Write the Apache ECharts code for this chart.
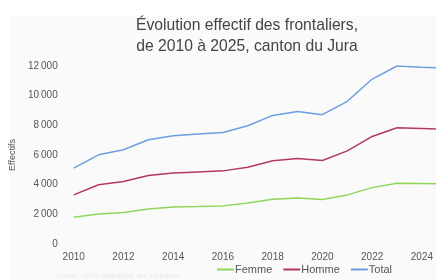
<!DOCTYPE html>
<html>
<head>
<meta charset="utf-8">
<script src="https://cdn.jsdelivr.net/npm/echarts@6/dist/echarts.min.js"></script>
<style>
  html, body { margin: 0; padding: 0; background: #fff; }
  #chart { width: 436px; height: 280px; }
</style>
</head>
<body>
<div id="chart"></div>
<script>
// années et effectifs
var years = [2010, 2011, 2012, 2013, 2014, 2015, 2016, 2017, 2018, 2019, 2020, 2021, 2022, 2023, 2024, 2025];
var femme = [1800, 2030, 2120, 2360, 2500, 2520, 2570, 2770, 3020, 3100, 3000, 3310, 3800, 4100, 4080, 4060];
var homme = [3310, 3990, 4210, 4620, 4780, 4860, 4930, 5180, 5610, 5770, 5630, 6280, 7250, 7840, 7780, 7720];
var total = [5110, 6010, 6350, 7030, 7300, 7410, 7520, 7970, 8670, 8940, 8720, 9620, 11120, 12000, 11920, 11860];
var yTicks = [0, 2000, 4000, 6000, 8000, 10000, 12000];

function pairs(vals) {
  var out = [];
  for (var i = 0; i < years.length; i++) {
    out.push([years[i], vals[i]]);
  }
  return out;
}

function fmtThousands(v) {
  var s = String(v);
  if (s.length > 3) {
    s = s.slice(0, s.length - 3) + '\u202F' + s.slice(s.length - 3);
  }
  return s;
}

var myChart = echarts.init(document.getElementById('chart'));
var font = 'Helvetica, Arial, "Liberation Sans", sans-serif';

var option = {
  backgroundColor: '#ffffff',
  animation: false,
  textStyle: { fontFamily: font },
  graphic: [{
    type: 'rect',
    left: 10,
    top: 16,
    z: -10,
    shape: { width: 430, height: 270 },
    style: { fill: '#fafafa' }
  }, {
    type: 'text',
    left: 55,
    top: 273,
    style: { text: 'Source : OFS, Statistique des frontaliers', fill: '#e8e8e8', font: '7px ' + font }
  }],
  title: {
    text: 'Évolution effectif des frontaliers,\nde 2010 à 2025, canton du Jura',
    left: 242,
    top: 10,
    textAlign: 'center',
    textStyle: {
      fontFamily: font,
      fontSize: 15.7,
      fontWeight: 'normal',
      color: '#444',
      lineHeight: 21
    }
  },
  legend: {
    bottom: 0,
    left: 212,
    itemWidth: 17,
    itemHeight: 2,
    itemGap: 11,
    icon: 'rect',
    textStyle: { fontSize: 11, color: '#555', padding: [0, 0, 0, -4] },
    data: ['Femme', 'Homme', 'Total']
  },
  grid: {
    left: 73,
    top: 66,
    right: 0,
    height: 178,
    containLabel: false
  },
  // l'axe est coupé au bord droit, comme sur l'original
  xAxis: {
    type: 'value',
    min: 2010,
    max: 2024.52,
    interval: 2,
    axisLine: { show: false },
    axisTick: { show: false },
    splitLine: { show: false },
    axisLabel: {
      margin: 8,
      fontSize: 10,
      color: '#555',
      showMaxLabel: false,
      formatter: function (v) { return String(v); }
    }
  },
  yAxis: {
    type: 'value',
    min: yTicks[0],
    max: yTicks[yTicks.length - 1],
    interval: 2000,
    name: 'Effectifs',
    nameLocation: 'middle',
    nameGap: 51,
    nameTextStyle: { fontSize: 9, color: '#555' },
    axisLine: { show: false },
    axisTick: { show: false },
    splitLine: { show: false },
    axisLabel: {
      margin: 16,
      fontSize: 10,
      color: '#555',
      formatter: fmtThousands
    }
  },
  series: [{
    name: 'Femme',
    type: 'line',
    showSymbol: false,
    data: pairs(femme),
    color: '#8fd65c',
    lineStyle: { width: 1.5 }
  }, {
    name: 'Homme',
    type: 'line',
    showSymbol: false,
    data: pairs(homme),
    color: '#b23a5e',
    lineStyle: { width: 1.5 }
  }, {
    name: 'Total',
    type: 'line',
    showSymbol: false,
    data: pairs(total),
    color: '#6b9fe2',
    lineStyle: { width: 1.5 }
  }]
};

myChart.setOption(option);
</script>
</body>
</html>
